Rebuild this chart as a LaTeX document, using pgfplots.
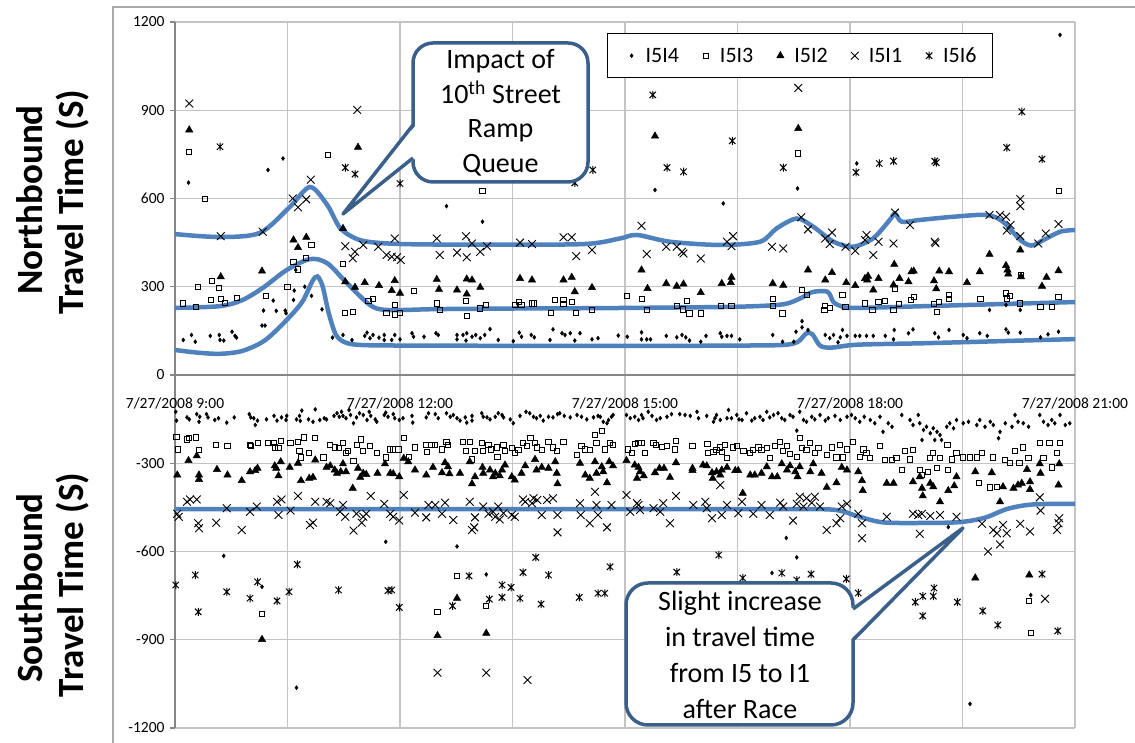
\documentclass[border=0pt]{standalone}
\usepackage{fontspec}
\setmainfont{Carlito}
\usepackage{pgfplots}
\pgfplotsset{compat=1.18}
\definecolor{trend}{RGB}{79,129,189}
\definecolor{callout}{RGB}{58,95,139}
\definecolor{gridc}{RGB}{195,195,195}
\definecolor{axisc}{RGB}{134,134,134}
\definecolor{framec}{RGB}{170,170,170}
\pgfdeclareplotmark{xstar}{%
  \pgfpathmoveto{\pgfqpoint{-0.8\pgfplotmarksize}{-0.8\pgfplotmarksize}}%
  \pgfpathlineto{\pgfqpoint{0.8\pgfplotmarksize}{0.8\pgfplotmarksize}}%
  \pgfpathmoveto{\pgfqpoint{-0.8\pgfplotmarksize}{0.8\pgfplotmarksize}}%
  \pgfpathlineto{\pgfqpoint{0.8\pgfplotmarksize}{-0.8\pgfplotmarksize}}%
  \pgfpathmoveto{\pgfqpoint{0pt}{-\pgfplotmarksize}}%
  \pgfpathlineto{\pgfqpoint{0pt}{\pgfplotmarksize}}%
  \pgfusepathqstroke}
\pgfplotsset{lgimg/.style={legend image code/.code={\path[draw=none,fill=none] (0pt,-4pt) rectangle (22pt,4pt); \draw[##1] plot coordinates {(10pt,0pt)};}}}
\begin{document}
\begin{tikzpicture}[x=1pt,y=1pt]
\path[use as bounding box] (0,0) rectangle (1135,743);
\draw[framec, line width=1.5pt] (113,0) -- (113,736) -- (1135,736);
\begin{axis}[
  at={(175pt,15pt)}, anchor=south west, scale only axis, width=900pt, height=706pt,
  xmin=9, xmax=21, ymin=-1200, ymax=1200,
  axis x line=middle, axis y line=left,
  axis line style={-, draw=axisc, line width=1.8pt},
  xtick={9,12,15,18,21}, minor xtick={10.5,13.5,16.5,19.5},
  xticklabels={7/27/2008 9:00,7/27/2008 12:00,7/27/2008 15:00,7/27/2008 18:00,7/27/2008 21:00},
  ytick={-1200,-900,-600,-300,0,300,600,900,1200},
  grid=both,
  major grid style={draw=gridc, line width=1.2pt},
  minor grid style={draw=gridc, line width=1.2pt},
  xtick style={draw=none}, minor tick style={draw=none},
  ytick style={draw=axisc, line width=1.2pt},
  tick align=outside, major tick length=5pt,
  hide obscured x ticks=false, hide obscured y ticks=false,
  /pgf/number format/assume math mode=true,
  /pgf/number format/1000 sep={},
  ticklabel style={font=\fontsize{15.5}{18}\selectfont, text=black},
  xticklabel style={yshift=-14pt},
  yticklabel style={xshift=-2pt},
  clip=false,
  legend columns=5,
  legend style={at={(0.48,0.9845)}, anchor=north west, draw=black, line width=1.2pt, fill=white,
    inner xsep=14pt, inner ysep=12pt, font=\fontsize{22}{26}\selectfont,
    /tikz/every even column/.append style={column sep=15pt}, nodes={inner sep=2pt}},
]
% I5I4
\addplot[only marks, mark=diamond*, mark size=2pt, black, line width=0.5pt, lgimg] coordinates {
(9.11,119)(9.22,136)(9.27,113)(9.47,133)(9.59,136)(9.6,119)(9.65,117)(9.76,147)(9.8,133)(9.82,127)(10.16,168)(10.2,168)(10.18,219)(10.31,253)(10.35,218)(10.47,219)(10.48,210)(10.58,255)(10.59,287)(10.61,357)(10.73,300)(10.82,269)(10.96,223)(11.1,127)(11.24,136)(11.36,119)(11.53,133)(11.56,144)(11.6,125)(11.64,136)(11.72,127)(11.79,136)(11.79,119)(11.89,119)(11.93,136)(12,121)(12.16,142)(12.18,130)(12.32,130)(12.48,142)(12.51,136)(12.62,574)(12.76,136)(12.76,121)(12.84,136)(12.89,142)(12.88,117)(12.96,130)(13.01,136)(13.07,125)(13.1,521)(13.13,136)(13.2,156)(13.31,119)(13.51,115)(13.59,144)(13.62,130)(13.75,136)(13.79,128)(14,119)(14.04,155)(14.16,142)(14.2,136)(14.27,142)(14.33,117)(14.4,142)(14.56,121)(14.64,125)(14.91,134)(9.18,654)(10.24,697)(10.44,736)
(15.03,130)(15.22,145)(15.22,121)(15.29,121)(15.34,121)(15.55,133)(15.69,128)(15.76,136)(15.81,128)(15.86,117)(16.01,113)(16.08,133)(16.27,142)(16.29,130)(16.36,133)(16.42,133)(16.53,121)(16.97,136)(17.1,113)(17.25,113)(17.28,147)(17.36,183)(17.36,162)(17.44,153)(17.67,136)(17.73,125)(17.78,136)(17.84,111)(17.87,128)(17.9,153)(17.96,133)(18.07,133)(18.13,133)(18.22,133)(18.31,133)(18.47,133)(18.59,153)(18.58,121)(18.78,142)(18.84,155)(19.13,142)(19.18,128)(19.32,153)(19.51,136)(19.56,125)(19.73,142)(19.83,133)(19.86,221)(20.08,155)(20.11,144)(20.08,238)(20.27,144)(20.27,221)(20.54,128)(20.64,138)(20.78,147)(15.4,629)(16.31,583)(17.3,634)(18.09,719)(20.8,1156)
(9.01,-125)(9.02,-155)(9.16,-144)(9.19,-151)(9.29,-133)(9.32,-159)(9.33,-142)(9.42,-133)(9.44,-144)(9.53,-153)(9.58,-147)(9.69,-162)(9.79,-144)(9.99,-133)(10.01,-144)(10.05,-147)(10.07,-170)(10.1,-155)(10.22,-151)(10.32,-139)(10.36,-155)(10.42,-144)(10.48,-153)(10.49,-139)(10.62,-151)(10.66,-139)(10.67,-156)(10.69,-121)(10.78,-151)(10.84,-159)(10.87,-117)(10.93,-153)(10.99,-147)(11.02,-151)(11.12,-139)(11.16,-130)(11.19,-142)(11.22,-125)(11.24,-139)(11.28,-147)(11.32,-119)(11.34,-136)(11.38,-164)(11.42,-144)(11.46,-130)(11.51,-136)(11.56,-153)(11.59,-125)(11.61,-139)(11.67,-151)(11.69,-159)(11.79,-136)(11.81,-128)(11.84,-142)(11.91,-133)(11.93,-147)(11.99,-153)(12.04,-147)(12.16,-139)(12.17,-162)(12.35,-144)(12.38,-130)(12.47,-133)(12.51,-147)(12.62,-130)(12.67,-142)(12.71,-136)(12.76,-147)(12.8,-155)(12.87,-144)(12.89,-162)(12.96,-155)(12.96,-139)(13.09,-130)(13.11,-142)(13.16,-144)(13.2,-151)(13.27,-142)(13.31,-130)(13.36,-136)(13.38,-144)(13.47,-151)(13.51,-164)(13.6,-139)(13.68,-125)(13.73,-130)(13.78,-142)(13.82,-147)(13.87,-139)(13.91,-155)(13.98,-142)(14.04,-144)(14.1,-133)(14.13,-130)(14.19,-139)(14.27,-144)(14.36,-136)(14.42,-142)(14.49,-151)(14.58,-144)(14.64,-139)
(14.67,-142)(14.71,-159)(14.76,-164)(14.78,-153)(14.82,-142)(14.84,-136)(15.02,-136)(15.07,-147)(15.13,-142)(15.18,-153)(15.22,-136)(15.24,-147)(15.31,-125)(15.36,-139)(15.42,-153)(15.47,-147)(15.56,-142)(15.62,-133)(15.73,-133)(15.8,-136)(15.87,-139)(15.96,-125)(15.98,-147)(16.09,-139)(16.18,-159)(16.2,-147)(16.22,-136)(16.27,-153)(16.36,-147)(16.38,-119)
(16.42,-147)(16.49,-136)(16.52,-151)(16.56,-153)(16.62,-130)(16.69,-155)(16.73,-147)(16.8,-142)(16.84,-153)(16.89,-125)(16.93,-144)(16.98,-136)(17.04,-130)(17.09,-147)(17.13,-153)(17.2,-136)(17.24,-142)(17.29,-189)(17.33,-125)(17.38,-153)(17.42,-159)(17.49,-142)(17.53,-151)(17.6,-136)(17.67,-155)(17.71,-147)(17.8,-139)(17.87,-153)(17.96,-142)(18.02,-136)(18.07,-147)(18.13,-159)(18.19,-142)(18.27,-153)(18.33,-164)(18.4,-142)(18.44,-193)(18.51,-164)(18.56,-176)(18.69,-136)(18.8,-153)(18.84,-170)(18.91,-136)(18.93,-164)(18.96,-221)(18.98,-187)(19.02,-176)(19.07,-198)(19.11,-181)(19.13,-221)(19.16,-193)(19.2,-204)(19.22,-221)(19.29,-176)(19.33,-164)(19.38,-181)(19.42,-153)(19.51,-164)(19.58,-159)(19.69,-170)(19.73,-153)(19.8,-176)(19.87,-159)(19.91,-170)(19.98,-215)(20,-193)(20.07,-164)(20.16,-176)(20.2,-136)(20.24,-159)(20.31,-164)(20.38,-176)(20.53,-136)(20.58,-159)(20.64,-170)(20.69,-153)(20.73,-164)(20.8,-136)(20.87,-170)(20.93,-164)
(11.81,-567)(12.76,-583)(9.65,-615)(10.62,-1063)(10.16,-720)(13.15,-678)(16.96,-673)(17.15,-554)(17.29,-620)(19.31,-517)(19.6,-1118)(20.41,-748)
};
\addlegendentry{I5I4}
% I5I3
\addplot[only marks, mark=square, mark size=2.6pt, black, line width=0.9pt, lgimg] coordinates {
(9.11,243)(9.28,230)(9.31,300)(9.48,255)(9.49,321)(9.59,297)(9.61,259)(9.67,246)(9.83,263)(9.4,598)(10.21,270)(10.5,298)(10.58,385)(10.64,359)(10.75,397)(10.82,442)(11.24,377)(11.27,212)(11.37,213)(11.58,253)(11.64,259)(11.82,212)(11.93,237)(11.93,206)(12,210)(12.19,285)(12.49,243)(12.53,221)(12.88,251)(12.89,202)(13.07,226)(13.15,239)(13.1,625)(13.53,237)(13.59,248)(13.62,237)(13.76,243)(13.79,243)(14.01,212)(14.07,255)(14.18,255)(14.18,241)(14.29,248)(14.35,210)(14.56,221)(15.03,270)(9.19,759)(11.04,748)
(15.23,258)(15.29,221)(15.69,234)(15.77,223)(15.83,251)(15.86,209)(16.01,209)(16.28,234)(16.42,236)(16.97,258)(16.97,234)(17.1,209)(17.36,289)(17.43,271)(17.67,236)(17.66,221)(17.73,229)(17.9,272)(17.94,232)(18.2,243)(18.3,221)(18.38,249)(18.47,251)(18.58,221)(18.6,294)(18.65,241)(18.81,255)(18.85,266)(19.12,241)(19.16,213)(19.19,249)(19.32,272)(19.32,259)(19.74,258)(20.08,277)(20.09,260)(20.13,268)(20.27,243)(20.28,340)(20.54,232)(20.69,232)(20.78,266)(17.31,753)(20.79,626)
(9.02,-210)(9.04,-253)(9.16,-219)(9.19,-215)(9.28,-212)(9.32,-255)(9.55,-238)(9.7,-241)(10,-238)(10.01,-241)(10.11,-232)(10.24,-230)(10.32,-232)(10.33,-246)(10.38,-249)(10.41,-223)(10.54,-230)(10.64,-227)(10.66,-257)(10.68,-280)(10.72,-212)(10.79,-266)(10.87,-215)(10.98,-280)(11.07,-238)(11.13,-246)(11.19,-249)(11.24,-230)(11.28,-266)(11.31,-257)(11.38,-291)(11.43,-238)(11.48,-219)(11.51,-257)(11.6,-241)(11.69,-264)(11.81,-280)(11.87,-253)(11.91,-253)(11.98,-253)(12.05,-215)(12.12,-278)(12.2,-246)(12.35,-238)(12.36,-261)(12.42,-238)(12.47,-238)(12.56,-253)(12.62,-227)(12.64,-238)(12.84,-227)(12.88,-257)(12.93,-227)(12.96,-287)(13,-257)(13.09,-230)(13.11,-257)(13.18,-238)(13.21,-253)(13.29,-246)(13.3,-278)(13.38,-238)(13.4,-257)(13.49,-249)(13.53,-266)(13.58,-255)(13.64,-230)(13.69,-241)(13.74,-215)(13.8,-230)(13.83,-246)(13.89,-255)(13.98,-227)(14.04,-246)(14.09,-257)(14.18,-227)(14.36,-272)(14.42,-241)(14.47,-253)(14.53,-255)(14.6,-204)
(14.62,-232)(14.69,-189)(14.73,-253)(14.8,-230)(14.84,-238)(15.04,-253)(15.09,-266)(15.13,-235)(15.18,-232)(15.22,-230)(15.27,-264)(15.38,-230)(15.41,-238)(15.49,-244)(15.56,-241)(15.68,-223)(15.67,-253)(15.9,-241)(16.1,-235)(16.11,-264)(16.18,-261)(16.22,-255)(16.27,-246)(16.29,-261)(16.33,-238)(16.36,-283)
(16.44,-246)(16.49,-241)(16.58,-257)(16.67,-264)(16.71,-255)(16.78,-246)(16.82,-255)(16.89,-249)(16.93,-283)(17,-241)(17.07,-227)(17.11,-257)(17.16,-241)(17.2,-268)(17.29,-278)(17.33,-215)(17.36,-249)(17.42,-255)(17.47,-232)(17.53,-264)(17.58,-249)(17.69,-272)(17.76,-246)(17.82,-280)(17.87,-238)(17.91,-280)(17.96,-253)(18.04,-227)(18.13,-278)(18.18,-253)(18.22,-266)(18.27,-283)(18.4,-241)(18.47,-289)(18.56,-289)(18.62,-283)(18.69,-323)(18.73,-257)(18.8,-287)(18.84,-255)(18.93,-323)(18.96,-340)(19.04,-329)(19.07,-283)(19.11,-264)(19.16,-317)(19.2,-283)(19.3,-238)(19.31,-323)(19.36,-287)(19.42,-266)(19.51,-280)(19.6,-280)(19.69,-280)(19.72,-366)(19.76,-266)(19.87,-382)(19.91,-280)(19.96,-380)(20.07,-289)(20.13,-300)(20.2,-257)(20.26,-300)(20.31,-246)(20.38,-283)(20.53,-230)(20.58,-283)(20.66,-232)(20.69,-314)(20.76,-266)(20.8,-230)
(10.16,-813)(12.76,-683)(12.5,-805)(13.15,-785)(20.39,-768)(20.41,-877)
};
\addlegendentry{I5I3}
% I5I2
\addplot[only marks, mark=triangle*, mark size=4.2pt, black, line width=0.5pt, lgimg] coordinates {
(9.61,334)(10.16,353)(10.58,459)(10.64,433)(10.75,468)(11.24,498)(11.27,317)(11.4,298)(11.53,314)(11.72,304)(11.89,287)(11.93,321)(12,278)(12.49,325)(12.52,291)(12.76,289)(12.89,326)(12.89,275)(12.96,323)(13.07,298)(13.6,328)(13.76,323)(14.18,323)(14.29,332)(14.33,283)(14.56,297)(9.19,833)(11.44,774)
(15.22,357)(15.3,294)(15.55,311)(15.69,302)(15.78,309)(16.01,280)(16.29,311)(16.42,332)(16.41,314)(16.97,311)(17.11,305)(17.44,357)(17.67,323)(17.76,348)(17.95,314)(18.07,304)(18.2,328)(18.24,336)(18.23,323)(18.38,328)(18.31,289)(18.59,376)(18.58,306)(18.66,328)(18.78,317)(18.82,351)(18.85,353)(19.12,320)(19.15,293)(19.19,353)(19.32,351)(19.56,314)(19.73,351)(19.86,410)(20.08,372)(20.1,357)(20.11,343)(20.27,425)(20.28,334)(20.56,302)(20.62,332)(20.78,354)(15.4,812)(17.31,838)
(9.03,-340)(9.18,-291)(9.29,-275)(9.32,-340)(9.32,-355)(9.56,-321)(9.7,-340)(9.89,-359)(10,-329)(10.07,-325)(10.1,-317)(10.33,-309)(10.35,-317)(10.41,-295)(10.38,-343)(10.53,-314)(10.64,-300)(10.68,-359)(10.79,-351)(10.84,-348)(10.87,-289)(11.02,-314)(11.07,-309)(11.13,-323)(11.16,-334)(11.21,-329)(11.24,-302)(11.28,-329)(11.37,-385)(11.44,-317)(11.47,-348)(11.51,-334)(11.55,-338)(11.7,-334)(11.8,-302)(11.87,-334)(11.91,-336)(11.99,-346)(12.05,-283)(12.11,-295)(12.2,-323)(12.35,-340)(12.44,-314)(12.56,-332)(12.6,-298)(12.64,-312)(12.66,-336)(12.8,-334)(12.93,-295)(12.96,-370)(13,-346)(13.1,-314)(13.11,-334)(13.2,-323)(13.24,-346)(13.27,-334)(13.33,-343)(13.36,-323)(13.4,-306)(13.49,-346)(13.53,-357)(13.62,-334)(13.67,-309)(13.8,-287)(13.82,-323)(13.89,-314)(13.98,-317)(14.07,-295)(14.09,-334)(14.1,-370)(14.4,-300)(14.47,-340)(14.53,-351)(14.6,-295)
(14.62,-334)(14.69,-312)(14.71,-329)(14.76,-366)(14.79,-295)(14.84,-309)(15.02,-291)(15.13,-306)(15.18,-314)(15.2,-329)(15.16,-351)(15.25,-343)(15.4,-332)(15.46,-317)(15.52,-317)(15.6,-348)(15.68,-298)(15.9,-317)(15.9,-325)(16.04,-306)(16.09,-309)(16.16,-332)(16.17,-351)(16.22,-329)(16.27,-340)(16.29,-323)(16.36,-314)
(16.47,-325)(16.51,-325)(16.57,-402)(16.67,-340)(16.73,-340)(16.82,-334)(16.89,-312)(16.96,-346)(17.03,-346)(17.09,-302)(17.16,-323)(17.2,-309)(17.27,-329)(17.3,-346)(17.33,-312)(17.47,-329)(17.51,-302)(17.62,-334)(17.69,-382)(17.82,-366)(17.89,-314)(17.96,-323)(18.11,-329)(18.16,-359)(18.17,-393)(18.49,-368)(18.58,-368)(18.84,-363)(18.93,-346)(18.96,-385)(18.97,-411)(19.07,-368)(19.11,-380)(19.2,-431)(19.31,-393)(19.39,-377)(19.42,-346)(19.67,-329)(19.89,-332)(20,-431)(20.04,-380)(20.18,-385)(20.24,-374)(20.29,-368)(20.36,-321)(20.4,-363)(20.4,-389)(20.53,-302)(20.54,-334)(20.78,-374)(20.79,-302)
(10.16,-899)(12.76,-759)(12.5,-886)(13.15,-878)(19.67,-690)(20.39,-680)
};
\addlegendentry{I5I2}
% I5I1
\addplot[only marks, mark=x, mark size=5.5pt, black, line width=0.9pt, lgimg] coordinates {
(9.61,472)(10.17,487)(10.57,600)(10.64,570)(10.75,597)(10.81,664)(11.27,438)(11.37,397)(11.4,419)(11.51,442)(11.71,436)(11.82,408)(11.89,402)(11.96,400)(12.01,391)(11.93,464)(12.49,464)(12.53,408)(12.76,416)(12.88,472)(12.89,400)(12.96,447)(13.07,419)(13.16,438)(13.6,450)(13.76,445)(14.18,468)(14.29,468)(14.35,404)(14.56,425)(9.19,923)(11.43,901)
(15.22,507)(15.29,411)(15.55,436)(15.69,436)(15.76,419)(15.78,413)(16.01,396)(16.36,453)(16.44,472)(16.42,438)(16.96,436)(17.11,430)(17.35,536)(17.44,495)(17.67,464)(17.76,484)(17.73,445)(17.94,436)(18.07,422)(18.22,476)(18.2,459)(18.31,408)(18.38,453)(18.58,447)(18.6,552)(18.8,510)(19.13,453)(19.14,448)(19.86,544)(20,544)(20.08,538)(20.14,510)(20.09,491)(20.27,472)(20.51,447)(20.61,481)(20.78,513)(20.27,598)(20.27,574)(17.31,976)
(9.03,-472)(9.05,-482)(9.16,-431)(9.2,-423)(9.29,-423)(9.31,-504)(9.32,-521)(9.55,-502)(9.69,-453)(9.89,-527)(10,-465)(10.09,-447)(10.36,-431)(10.38,-476)(10.42,-423)(10.54,-461)(10.64,-411)(10.8,-510)(10.84,-502)(10.87,-431)(11.02,-431)(11.07,-436)(11.2,-465)(11.24,-442)(11.27,-482)(11.38,-529)(11.42,-472)(11.49,-502)(11.51,-482)(11.55,-472)(11.61,-411)(11.79,-438)(11.87,-472)(11.91,-482)(11.99,-495)(12.05,-408)(12.2,-468)(12.35,-484)(12.38,-442)(12.47,-442)(12.56,-472)(12.6,-434)(12.71,-493)(12.93,-431)(12.96,-527)(12.99,-518)(13,-484)(13.11,-447)(13.18,-472)(13.24,-465)(13.27,-482)(13.31,-447)(13.33,-491)(13.38,-470)(13.49,-476)(13.53,-482)(13.64,-423)(13.67,-431)(13.76,-436)(13.78,-419)(13.83,-425)(13.89,-476)(13.96,-425)(14.04,-419)(14.1,-476)(14.1,-535)(14.4,-436)(14.41,-476)(14.53,-504)(14.6,-397)
(14.62,-442)(14.64,-476)(14.76,-518)(14.82,-442)(15.02,-408)(15.07,-465)(15.16,-436)(15.2,-459)(15.18,-442)(15.38,-453)(15.47,-465)(15.51,-436)(15.6,-504)(15.68,-411)(15.91,-442)(16.07,-431)(16.09,-453)(16.16,-487)(16.27,-374)(16.29,-476)(16.36,-442)
(16.51,-470)(16.56,-431)(16.71,-472)(16.82,-442)(16.93,-476)(17.07,-434)(17.11,-447)(17.24,-495)(17.29,-438)(17.33,-414)(17.38,-447)(17.42,-419)(17.49,-434)(17.53,-414)(17.6,-447)(17.69,-527)(17.82,-504)(17.87,-487)(17.89,-447)(17.96,-438)(18.11,-472)(18.16,-504)(18.16,-555)(18.49,-482)(18.84,-472)(18.91,-476)(18.93,-540)(18.96,-472)(19.07,-479)(19.2,-476)(19.42,-482)(19.76,-506)(19.84,-600)(19.91,-527)(19.96,-538)(20,-576)(20.04,-510)(20.09,-538)(20.27,-506)(20.4,-532)(20.53,-416)(20.54,-461)(20.76,-527)(20.78,-504)(20.79,-487)
(12.5,-1012)(13.15,-1012)(13.7,-1037)(20.6,-761)
};
\addlegendentry{I5I1}
% I5I6
\addplot[only marks, mark=xstar, mark size=4pt, black, line width=1pt, lgimg] coordinates {
(9.6,776)(11.27,705)(11.4,683)(12,651)(14.33,653)(14.57,697)(15.37,952)(15.56,705)(15.78,691)(16.43,796)(17.11,705)(18.08,689)(18.39,719)(18.58,727)(19.13,727)(19.15,722)(20.09,773)(20.29,895)(20.56,734)
(9.01,-714)(9.27,-680)(9.31,-805)(9.69,-737)(10,-759)(10.1,-703)(10.36,-768)(10.52,-737)(10.63,-644)(11.18,-731)(11.84,-733)(11.89,-731)(11.99,-790)(12.7,-785)(12.92,-683)(13.19,-762)(13.36,-714)(13.36,-756)(13.48,-722)(13.6,-759)(13.64,-671)(13.81,-620)(13.88,-779)(13.98,-680)(14.39,-756)(14.64,-742)(14.73,-742)(14.8,-652)(15.69,-670)(16.25,-612)(16.57,-690)(17.09,-673)(17.29,-697)(17.48,-677)(17.95,-693)(18.11,-741)(18.87,-772)(18.97,-752)(18.97,-819)(19.11,-752)(19.12,-724)(19.43,-772)(19.77,-802)(19.97,-850)(20.56,-677)(20.77,-870)
};
\addlegendentry{I5I6}
% trend lines
\addplot[trend, line width=4.5pt, smooth, tension=0.5, forget plot] coordinates {
(9,85)(9.3,76)(9.6,72)(9.9,82)(10.2,118)(10.5,190)(10.7,250)(10.83,318)(10.9,335)(10.97,300)(11.05,210)(11.15,135)(11.3,108)(11.6,101)(12.5,100)(13.5,99)(14.5,99)(15.5,99)(16.5,100)(17.1,102)(17.3,112)(17.42,142)(17.5,138)(17.6,100)(17.75,93)(18.1,103)(19,108)(20,115)(21,122)};
\addplot[trend, line width=4.5pt, smooth, tension=0.5, forget plot] coordinates {
(9,228)(9.6,234)(9.9,255)(10.17,296)(10.49,357)(10.8,394)(11.03,380)(11.29,313)(11.6,238)(11.83,221)(12.5,224)(13.5,226)(14.5,227)(15.5,229)(16.5,232)(17.1,240)(17.35,262)(17.5,282)(17.7,283)(17.78,248)(17.9,232)(18.1,228)(19,234)(20,241)(21,248)};
\addplot[trend, line width=4.5pt, smooth, tension=0.5, forget plot] coordinates {
(9,479)(9.6,469)(10.13,483)(10.53,571)(10.8,639)(11.03,578)(11.2,500)(11.4,465)(11.6,452)(12.04,445)(13,443)(14.44,445)(14.93,464)(15.16,476)(15.6,453)(16.27,442)(16.8,453)(17.02,498)(17.29,532)(17.51,504)(17.78,453)(18.04,436)(18.31,465)(18.53,527)(18.6,549)(18.69,521)(18.93,527)(19.38,538)(19.82,544)(20.04,521)(20.27,459)(20.42,440)(20.58,459)(20.8,487)(21,493)};
\addplot[trend, line width=4.5pt, smooth, tension=0.5, forget plot] coordinates {
(9,-456)(12,-456)(15,-456)(17,-456)(17.78,-458)(18.1,-480)(18.44,-501)(19,-503)(19.47,-500)(19.8,-485)(20.1,-455)(20.44,-440)(21,-438)};
\end{axis}
% callout 1
\filldraw[fill=white, draw=callout, line width=3.5pt, rounded corners=20pt] (413,561) rectangle (588,700);
\fill[white] (416,618) -- (343,529) -- (416,585) -- cycle;
\draw[callout, line width=3.5pt, line join=round] (413,618) -- (343,529) -- (413,585);
\node[align=center, font=\fontsize{28}{34.5}\selectfont] at (500.5,630) {Impact of\\10\textsuperscript{th} Street\\Ramp\\Queue};
% callout 2
\filldraw[fill=white, draw=callout, line width=3.5pt, rounded corners=22pt] (626,18) rectangle (853,160);
\fill[white] (850,134) -- (963,215) -- (850,103) -- cycle;
\draw[callout, line width=3.5pt, line join=round] (853,134) -- (963,215) -- (853,103);
\node[align=center, font=\fontsize{28}{36}\selectfont] at (740,88) {Slight increase\\in travel time\\from I5 to I1\\after Race};
% axis titles
\node[rotate=90, font=\bfseries\fontsize{37}{40}\selectfont] at (30,543) {Northbound};
\node[rotate=90, font=\bfseries\fontsize{37}{40}\selectfont] at (73,541) {Travel Time (S)};
\node[rotate=90, font=\bfseries\fontsize{37}{40}\selectfont] at (30,155) {Southbound};
\node[rotate=90, font=\bfseries\fontsize{37}{40}\selectfont] at (73,158) {Travel Time (S)};
\end{tikzpicture}
\end{document}
